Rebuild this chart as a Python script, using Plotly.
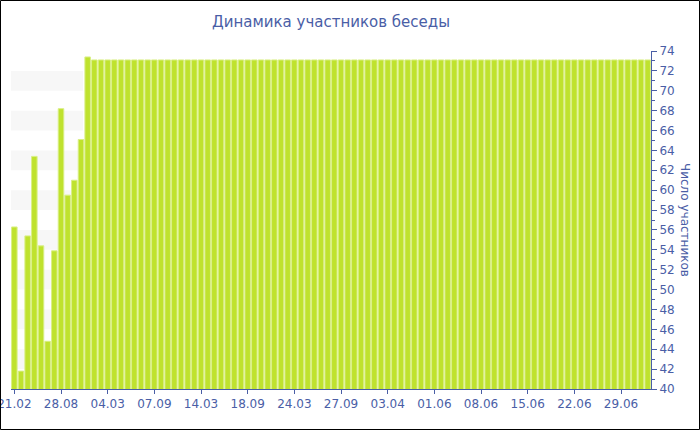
import plotly.graph_objects as go

# ---- data ----
first_values = [56.3, 41.8, 55.4, 63.4, 54.4, 44.8, 53.9, 68.2, 59.5, 61.0, 65.1, 73.4]
plateau_value = 73.1
n_plateau = 84
values = first_values + [plateau_value] * n_plateau
x_index = list(range(len(values)))

tick_labels = ["21.02", "28.08", "04.03", "07.09", "14.03", "18.09", "24.03",
               "27.09", "03.04", "01.06", "08.06", "15.06", "22.06", "29.06"]
tick_step = 7
tick_positions = [i * tick_step for i in range(len(tick_labels))]

title_text = "Динамика участников беседы"
yaxis_title = "Число участников"

# ---- style ----
W, H = 700, 430
ML, MR, MT, MB = 11, 49, 51, 41
PW, PH = W - ML - MR, H - MT - MB
blue = "#4a5ea6"
font_family = "DejaVu Sans, Verdana, sans-serif"

fig = go.Figure()
fig.add_trace(go.Bar(
    x=x_index, y=values,
    marker=dict(color="#bfe22e", line=dict(color="#d9ef86", width=1)),
    hoverinfo="x+y",
))

shapes = []
# alternating background bands
for lo in range(42, 74, 4):
    shapes.append(dict(type="rect", xref="x", yref="y", x0=-0.5, x1=10.3,
                       y0=lo, y1=lo + 2, fillcolor="#f7f7f7", line=dict(width=0),
                       layer="below"))
# outer border of the image
shapes.append(dict(type="rect", xref="paper", yref="paper",
                   x0=(0.5 - ML) / PW, x1=(W - 0.5 - ML) / PW,
                   y0=(MT + PH - (H - 0.5)) / PH, y1=(MT + PH - 0.5) / PH,
                   line=dict(color="black", width=1), fillcolor="rgba(0,0,0,0)"))

fig.update_layout(
    width=W, height=H,
    margin=dict(l=ML, r=MR, t=MT, b=MB, autoexpand=False),
    paper_bgcolor="white", plot_bgcolor="white",
    showlegend=False,
    bargap=0.17,
    font=dict(family=font_family, color=blue, size=12),
    title=dict(text=title_text, x=0.5, xref="paper", xanchor="center",
               y=1 - 22 / H, yanchor="middle",
               font=dict(family=font_family, size=15, color=blue)),
    xaxis=dict(range=[-0.5, len(values) - 0.5], tickmode="array",
               tickvals=tick_positions, ticktext=tick_labels,
               automargin=False, ticklabeloverflow="allow",
               showgrid=False, zeroline=False, showline=True, linecolor=blue,
               linewidth=1, ticks="outside", ticklen=4, tickcolor=blue,
               tickfont=dict(size=12, color=blue)),
    yaxis=dict(range=[40, 74], side="right", dtick=2, tick0=40,
               automargin=False, ticklabeloverflow="allow",
               showgrid=False, zeroline=False, showline=True, linecolor=blue,
               linewidth=1, ticks="outside", ticklen=5, tickcolor=blue,
               tickfont=dict(size=12, color=blue),
               minor=dict(dtick=1, ticks="outside", ticklen=3, tickcolor=blue,
                          showgrid=False)),
    shapes=shapes,
    annotations=[dict(text=yaxis_title, xref="paper", yref="paper",
                      x=(685 - ML) / PW, y=0.5, showarrow=False, textangle=90,
                      xanchor="center", yanchor="middle",
                      font=dict(family=font_family, size=12, color=blue))],
)

fig.write_html("out.html",
               config={"displayModeBar": False},
               post_script="document.body.style.margin='0';document.body.style.overflow='hidden';")
